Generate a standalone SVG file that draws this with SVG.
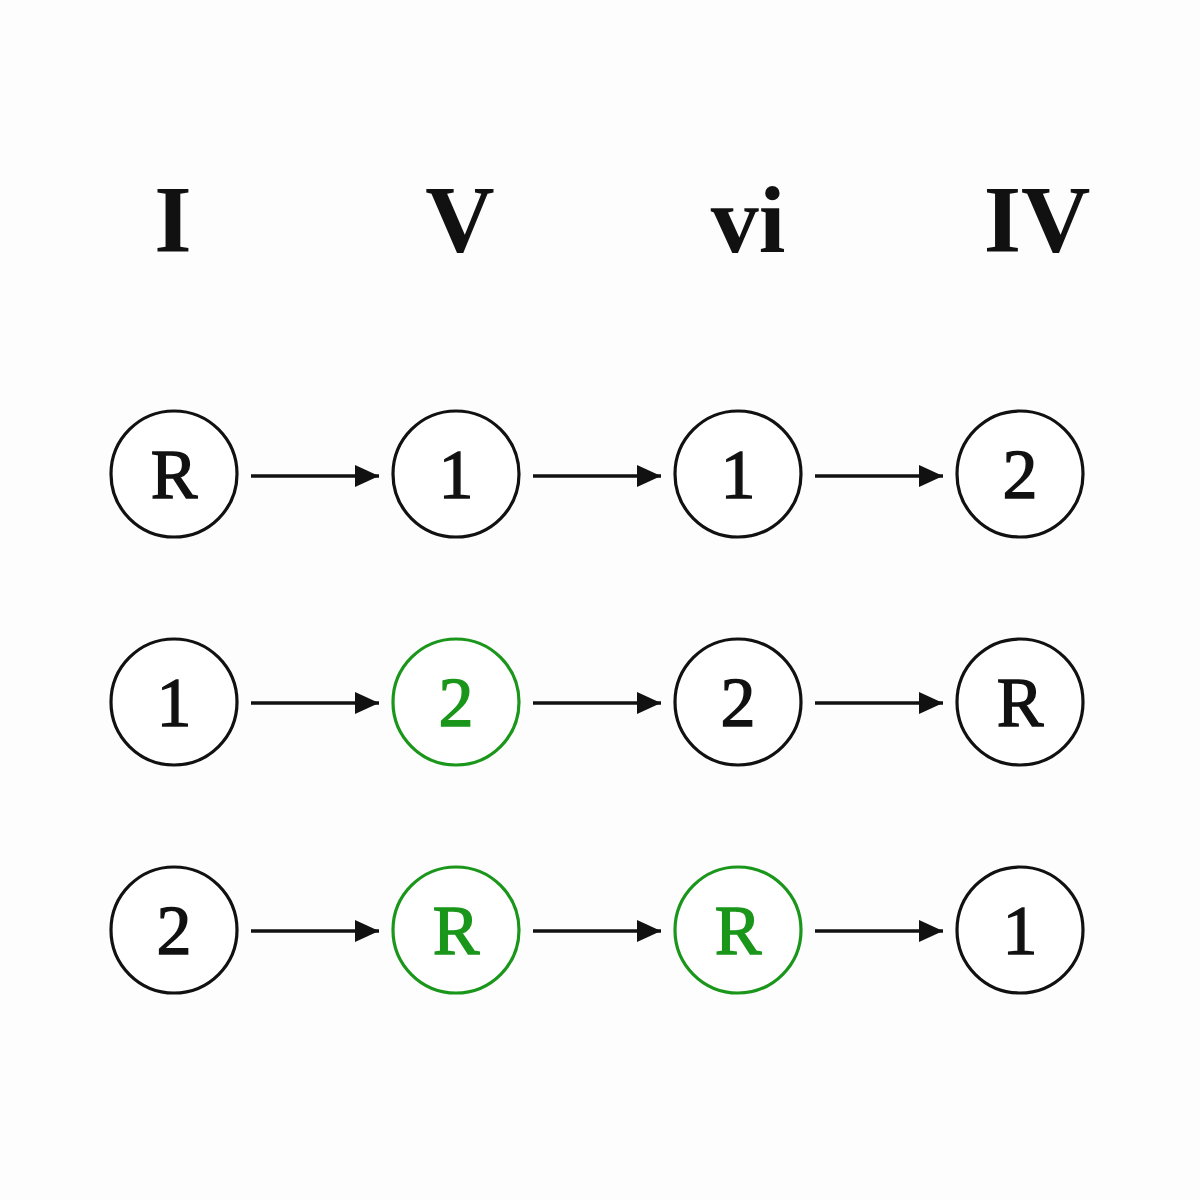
<svg xmlns="http://www.w3.org/2000/svg" width="1200" height="1200" viewBox="0 0 1200 1200">
<style>
.hdr{font-family:'Liberation Serif',Tinos,'Times New Roman',Times,serif;font-weight:bold;font-size:96px;fill:#111;text-anchor:middle}
.node circle{fill:#fff;stroke:#111;stroke-width:3.2}
.node text{font-family:'Liberation Serif',Tinos,'Times New Roman',Times,serif;font-size:70px;fill:#111;stroke:#111;stroke-width:1.4;text-anchor:middle}
.node.g circle{stroke:#1a961a}
.node.g text{fill:#1a961a;stroke:#1a961a}
.conn line{stroke:#111;stroke-width:3.4}
</style>
<defs>
<marker id="ah" viewBox="0 0 24 22" refX="24" refY="11" markerWidth="24" markerHeight="22" markerUnits="userSpaceOnUse" orient="auto">
<path d="M0,0 L24,11 L0,22 Z" fill="#111"/>
</marker>
</defs>
<rect width="1200" height="1200" fill="#fdfdfd"/>
<g id="headers">
<text class="hdr" x="173" y="252">I</text>
<text class="hdr" x="460" y="252">V</text>
<text class="hdr" x="748" y="252">vi</text>
<text class="hdr" x="1037" y="252">IV</text>
</g>
<g id="connectors" class="conn">
<line x1="251" y1="476" x2="379" y2="476" marker-end="url(#ah)"/>
<line x1="533" y1="476" x2="661" y2="476" marker-end="url(#ah)"/>
<line x1="815" y1="476" x2="943" y2="476" marker-end="url(#ah)"/>
<line x1="251" y1="703" x2="379" y2="703" marker-end="url(#ah)"/>
<line x1="533" y1="703" x2="661" y2="703" marker-end="url(#ah)"/>
<line x1="815" y1="703" x2="943" y2="703" marker-end="url(#ah)"/>
<line x1="251" y1="931" x2="379" y2="931" marker-end="url(#ah)"/>
<line x1="533" y1="931" x2="661" y2="931" marker-end="url(#ah)"/>
<line x1="815" y1="931" x2="943" y2="931" marker-end="url(#ah)"/>
</g>
<g id="n11" class="node"><circle cx="174" cy="474" r="63"/><text x="174" y="498">R</text></g>
<g id="n12" class="node"><circle cx="456" cy="474" r="63"/><text x="456" y="498">1</text></g>
<g id="n13" class="node"><circle cx="738" cy="474" r="63"/><text x="738" y="498">1</text></g>
<g id="n14" class="node"><circle cx="1020" cy="474" r="63"/><text x="1020" y="498">2</text></g>
<g id="n21" class="node"><circle cx="174" cy="702" r="63"/><text x="174" y="726">1</text></g>
<g id="n22" class="node g"><circle cx="456" cy="702" r="63"/><text x="456" y="726">2</text></g>
<g id="n23" class="node"><circle cx="738" cy="702" r="63"/><text x="738" y="726">2</text></g>
<g id="n24" class="node"><circle cx="1020" cy="702" r="63"/><text x="1020" y="726">R</text></g>
<g id="n31" class="node"><circle cx="174" cy="930" r="63"/><text x="174" y="954">2</text></g>
<g id="n32" class="node g"><circle cx="456" cy="930" r="63"/><text x="456" y="954">R</text></g>
<g id="n33" class="node g"><circle cx="738" cy="930" r="63"/><text x="738" y="954">R</text></g>
<g id="n34" class="node"><circle cx="1020" cy="930" r="63"/><text x="1020" y="954">1</text></g>
</svg>
